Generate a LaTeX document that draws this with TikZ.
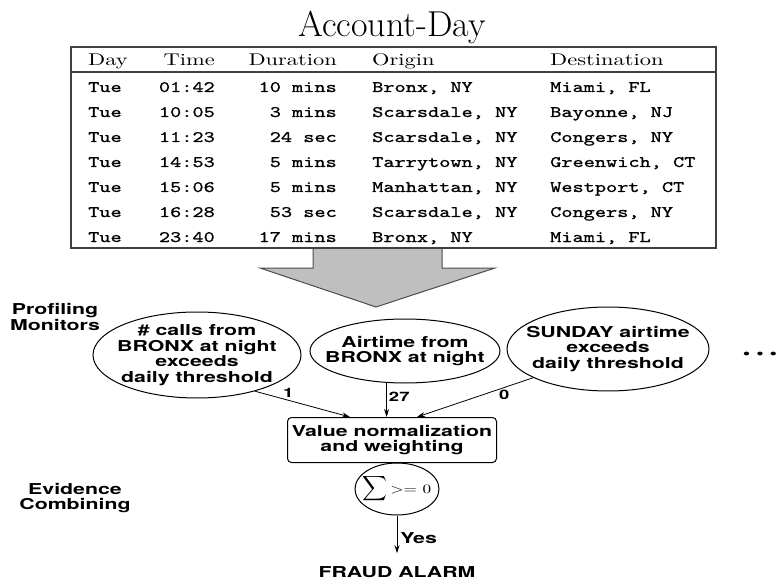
\documentclass[tikz,border=0pt]{standalone}
\usepackage{amsmath}
\usepackage{fontspec}
\usetikzlibrary{shapes.geometric,arrows.meta}
\newfontfamily\headfont{lmroman10-regular}[Extension=.otf,FakeStretch=1.32]
\newfontfamily\callfont{lmmono10-regular}[Extension=.otf,FakeStretch=1.33,FakeBold=1]
\newfontfamily\labelfont{texgyreheros-bold}[Extension=.otf,FakeStretch=1.42]

\begin{document}
\begin{tikzpicture}[x=1pt,y=-1pt,
	every node/.style={inner sep=0pt},
	heading/.style={font=\headfont\fontsize{17}{20}\selectfont},
	call/.style={font=\callfont\fontsize{16}{20}\selectfont},
	sans/.style={font=\labelfont\fontsize{15}{15.5}\selectfont, align=center},
	monitor/.style={draw, ellipse, line width=1pt},
	link/.style={-{Stealth[length=8pt,width=5pt]}, line width=0.8pt},
	weight/.style={font=\labelfont\fontsize{13}{13}\selectfont, inner sep=2pt},
	frame/.style={line width=1.5pt, draw=black!75}]

	\useasboundingbox (0,0) rectangle (779,580);

	% the account-day table
	\node[font=\fontsize{36}{40}\selectfont, anchor=base] (title) at (392,37) {Account-Day};
	\draw[frame] (71,47) rectangle (716,248);
	\draw[frame] (71,72) -- (716,72);

	\node[heading, anchor=base west] (hday) at (88,66) {Day};
	\node[heading, anchor=base east] (htime) at (215,66) {Time};
	\node[heading, anchor=base east] (hdur) at (337,66) {Duration};
	\node[heading, anchor=base west] (horig) at (372,66) {Origin};
	\node[heading, anchor=base west] (hdest) at (550,66) {Destination};

	\foreach \y/\t/\d/\o/\e [count=\i] in {
		92/01:42/10 mins/{Bronx, NY}/{Miami, FL},
		117/10:05/3 mins/{Scarsdale, NY}/{Bayonne, NJ},
		142/11:23/24 sec/{Scarsdale, NY}/{Congers, NY},
		167/14:53/5 mins/{Tarrytown, NY}/{Greenwich, CT},
		192/15:06/5 mins/{Manhattan, NY}/{Westport, CT},
		217/16:28/53 sec/{Scarsdale, NY}/{Congers, NY},
		242/23:40/17 mins/{Bronx, NY}/{Miami, FL}}{
		\node[call, anchor=base west] (day\i) at (88,\y) {Tue};
		\node[call, anchor=base east] (time\i) at (215,\y) {\t};
		\node[call, anchor=base east] (dur\i) at (337,\y) {\d};
		\node[call, anchor=base west] (orig\i) at (372,\y) {\o};
		\node[call, anchor=base west] (dest\i) at (550,\y) {\e};
	}

	% big arrow
	\filldraw[fill=gray!50, draw=black!70, line width=1pt] (313,249) -- (313,268) -- (260,268)
		-- (376,307) -- (495,268) -- (442,268) -- (442,249);

	% profiling monitors
	\node[sans] (profiling) at (55,317) {Profiling\\Monitors};

	\node[monitor, minimum width=208pt, minimum height=86pt] (mon1) at (197,355) {};
	\node[sans] (mon1text) at (mon1) {\# calls from\\BRONX at night\\exceeds\\daily threshold};

	\node[monitor, minimum width=190pt, minimum height=64pt] (mon2) at (405,351) {};
	\node[sans] (mon2text) at (mon2) {Airtime from\\BRONX at night};

	\node[monitor, minimum width=202pt, minimum height=84pt] (mon3) at (608,349) {};
	\node[sans] (mon3text) at (mon3) {SUNDAY airtime\\exceeds\\daily threshold};

	\node[sans] (more) at (760,355) {\textbullet\hspace{6pt}\textbullet\hspace{6pt}\textbullet};

	% evidence combining
	\node[sans, draw, rounded corners=4pt, line width=1pt, minimum width=209pt, minimum height=45pt] (norm) at (392,440) {Value normalization\\and weighting};

	\node[monitor, minimum width=84pt, minimum height=52pt] (sum) at (397,489) {};
	\node (sumtext) at (sum) {\fontsize{16}{16}\selectfont$\displaystyle\sum$\,{\headfont\fontsize{13}{13}\selectfont >= 0}};

	\node[sans] (evidence) at (75,498) {Evidence\\Combining};
	\node[sans] (alarm) at (397,572) {FRAUD ALARM};

	\draw[link] (mon1.-32) -- node[weight, pos=0.35, above] {1} ([xshift=-42pt]norm.north);
	\draw[link] (mon2.-120) -- node[weight, pos=0.4, right] {27} (mon2.-120 |- norm.north);
	\draw[link] (mon3.201) -- node[weight, pos=0.25, below] {0} ([xshift=25pt]norm.north);
	\draw[link, shorten >=13pt] (sum) -- node[sans, pos=0.45, right=3pt] {Yes} (alarm);

\end{tikzpicture}
\end{document}
